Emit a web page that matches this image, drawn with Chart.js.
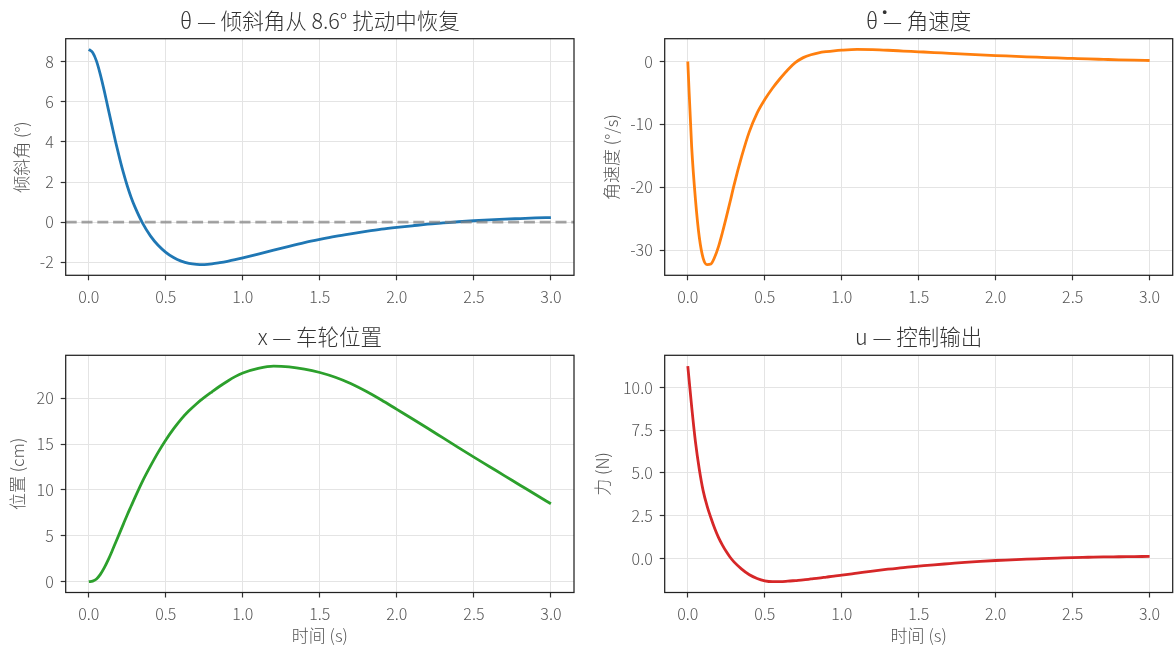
<!DOCTYPE html>
<html>
<head>
<meta charset="utf-8">
<script src="https://cdn.jsdelivr.net/npm/chart.js@4.4.1/dist/chart.umd.min.js"></script>
<style>
  html, body { margin: 0; padding: 0; background: #ffffff; }
  #fig { position: relative; width: 1174px; height: 650px; overflow: hidden; background: #ffffff; }
  #fig canvas { position: absolute; }
</style>
</head>
<body>
<div id="fig">
  <canvas id="pTheta" width="587" height="320" style="left:0px;top:0px"></canvas>
  <canvas id="pRate"  width="587" height="320" style="left:587px;top:0px"></canvas>
  <canvas id="pPos"   width="587" height="330" style="left:0px;top:320px"></canvas>
  <canvas id="pForce" width="587" height="330" style="left:587px;top:320px"></canvas>
</div>
<script>
// Simulation time (s)
const time = [0, 0.025, 0.05, 0.075, 0.1, 0.125, 0.15, 0.175, 0.2, 0.225, 0.25, 0.275, 0.3,
  0.35, 0.4, 0.45, 0.5, 0.55, 0.6, 0.65, 0.7, 0.75, 0.8, 0.85, 0.9, 0.95, 1.0,
  1.1, 1.2, 1.3, 1.4, 1.5, 1.6, 1.7, 1.8, 1.9, 2.0, 2.1, 2.2, 2.3, 2.4, 2.5, 2.6, 2.7, 2.8, 2.9, 3.0];

// Tilt angle (deg)
const tiltAngle = [8.60, 8.45, 8.02, 7.35, 6.55, 5.68, 4.82, 3.97, 3.18, 2.45, 1.80, 1.23, 0.75,
  -0.06, -0.68, -1.15, -1.50, -1.76, -1.94, -2.05, -2.10, -2.11, -2.08, -2.02, -1.95, -1.87, -1.78,
  -1.59, -1.39, -1.20, -1.02, -0.86, -0.71, -0.58, -0.46, -0.35, -0.26, -0.18, -0.10, -0.04, 0.02,
  0.07, 0.11, 0.15, 0.18, 0.21, 0.23];

// Angular velocity (deg/s)
const angularRate = [0, -13.5, -22.0, -28.0, -31.3, -32.3, -32.2, -31.1, -29.4, -27.2, -24.8, -22.3, -19.7,
  -15.1, -11.15, -8.2, -6.05, -4.25, -2.7, -1.3, -0.15, 0.62, 1.08, 1.38, 1.57, 1.71, 1.81,
  1.92, 1.88, 1.79, 1.67, 1.55, 1.43, 1.30, 1.18, 1.06, 0.95, 0.85, 0.75, 0.66, 0.57,
  0.49, 0.41, 0.34, 0.27, 0.21, 0.16];

// Wheel position (cm)
const wheelPos = [0, 0.07, 0.30, 0.80, 1.50, 2.35, 3.30, 4.30, 5.30, 6.30, 7.30, 8.25, 9.20,
  11.0, 12.6, 14.1, 15.45, 16.65, 17.72, 18.62, 19.40, 20.08, 20.70, 21.30, 21.85, 22.35, 22.75,
  23.25, 23.50, 23.42, 23.18, 22.80, 22.28, 21.60, 20.75, 19.80, 18.78, 17.76, 16.72, 15.67, 14.62,
  13.58, 12.56, 11.54, 10.52, 9.50, 8.49];

// Control force (N)
const controlForce = [11.25, 8.9, 6.8, 5.2, 3.95, 3.08, 2.38, 1.75, 1.22, 0.78, 0.40, 0.07, -0.20,
  -0.62, -0.95, -1.17, -1.31, -1.36, -1.36, -1.33, -1.29, -1.25, -1.20, -1.15, -1.09, -1.03, -0.98,
  -0.86, -0.74, -0.63, -0.53, -0.45, -0.37, -0.30, -0.23, -0.17, -0.12, -0.08, -0.04, -0.01, 0.02,
  0.05, 0.07, 0.09, 0.10, 0.11, 0.12];

// Tick positions
const timeTicks  = [0, 0.5, 1.0, 1.5, 2.0, 2.5, 3.0];
const tiltTicks  = [-2, 0, 2, 4, 6, 8];
const rateTicks  = [-30, -20, -10, 0];
const posTicks   = [0, 5, 10, 15, 20];
const forceTicks = [0, 2.5, 5, 7.5, 10];

const FONT = '"Noto Sans CJK SC Light", "Noto Sans CJK SC DemiLight", "Noto Sans CJK SC", "Noto Sans", sans-serif';
const TICK_COLOR = '#555555';
const LABEL_COLOR = '#555555';
const TITLE_COLOR = '#333333';

// axes rectangle around the plotting area
const axesFrame = {
  id: 'axesFrame',
  afterDatasetsDraw(chart) {
    const { ctx, chartArea: a } = chart;
    ctx.save();
    ctx.strokeStyle = '#222222';
    ctx.lineWidth = 1.25;
    ctx.strokeRect(a.left, a.top, a.right - a.left, a.bottom - a.top);
    ctx.restore();
  }
};

// dashed horizontal reference at y = 0
const zeroLine = {
  id: 'zeroLine',
  afterDatasetsDraw(chart, args, opts) {
    if (!opts || !opts.show) return;
    const { ctx, chartArea: a } = chart;
    const y = chart.scales.y.getPixelForValue(0);
    ctx.save();
    ctx.beginPath();
    ctx.rect(a.left, a.top, a.right - a.left, a.bottom - a.top);
    ctx.clip();
    ctx.strokeStyle = 'rgba(128,128,128,0.7)';
    ctx.lineWidth = 2.6;
    ctx.setLineDash([11, 4.8]);
    ctx.beginPath();
    ctx.moveTo(a.left, y);
    ctx.lineTo(a.right, y);
    ctx.stroke();
    ctx.restore();
  }
};

function paddedRange(values) {
  const lo = Math.min(...values), hi = Math.max(...values);
  const m = (hi - lo) * 0.05;
  return [lo - m, hi + m];
}

function makePanel(p) {
  const [yMin, yMax] = paddedRange(p.values);
  const [xMin, xMax] = paddedRange(time);
  const tickFont = { family: FONT, size: 16, weight: 300, lineHeight: 1.2 };
  const labelFont = { family: FONT, size: 17, weight: 300, lineHeight: 1.2 };
  const grid = { color: '#e4e4e4', lineWidth: 1, tickColor: '#333333', tickLength: 5, tickWidth: 1.2 };

  return new Chart(document.getElementById(p.canvas), {
    type: 'line',
    data: {
      datasets: [{
        data: time.map((t, i) => ({ x: t, y: p.values[i] })),
        borderColor: p.color,
        borderWidth: 2.8,
        pointRadius: 0,
        fill: false,
        cubicInterpolationMode: 'monotone'
      }]
    },
    options: {
      responsive: false,
      animation: false,
      devicePixelRatio: 1,
      layout: { padding: { left: 0, right: p.padRight, top: 0, bottom: 0 } },
      plugins: {
        legend: { display: false },
        tooltip: { enabled: false },
        zeroLine: { show: !!p.zeroLine },
        title: {
          display: true,
          text: p.title,
          fullSize: false,
          color: TITLE_COLOR,
          font: { family: FONT, size: 21.5, weight: 300, lineHeight: 1.2 },
          padding: p.titlePad
        }
      },
      scales: {
        x: {
          type: 'linear',
          min: xMin,
          max: xMax,
          afterBuildTicks: s => { s.ticks = timeTicks.map(v => ({ value: v })); },
          afterFit: s => { s.height = p.xAxisHeight; },
          ticks: {
            color: TICK_COLOR, font: tickFont, padding: 6.6,
            maxRotation: 0, autoSkip: false,
            callback: v => v.toFixed(1)
          },
          grid: grid,
          border: { display: false },
          title: {
            display: !!p.xLabel, text: p.xLabel || '', color: LABEL_COLOR, font: labelFont,
            padding: { top: 0, bottom: p.xLabelPad || 0 }
          }
        },
        y: {
          type: 'linear',
          min: yMin,
          max: yMax,
          afterBuildTicks: s => { s.ticks = p.ticks.map(v => ({ value: v })); },
          afterFit: s => { s.width = p.yAxisWidth; },
          ticks: {
            color: TICK_COLOR, font: tickFont, padding: 7, autoSkip: false,
            callback: p.fmt
          },
          grid: grid,
          border: { display: false },
          title: {
            display: true, text: p.yLabel, color: LABEL_COLOR, font: labelFont,
            padding: { top: p.yLabelPad, bottom: 0 }
          }
        }
      }
    },
    plugins: [zeroLine, axesFrame]
  });
}

const intFmt = v => String(Math.round(v));
const oneDec = v => v.toFixed(1);

makePanel({
  canvas: 'pTheta', title: 'θ — 倾斜角从 8.6° 扰动中恢复', yLabel: '倾斜角 (°)',
  values: tiltAngle, color: '#1f77b4', ticks: tiltTicks, fmt: intFmt, zeroLine: true,
  yAxisWidth: 65.7, padRight: 13, xAxisHeight: 44.7,
  titlePad: { top: 7.6, bottom: 5.3 }, yLabelPad: 11.6
});

makePanel({
  canvas: 'pRate', title: 'θ̇ — 角速度', yLabel: '角速度 (°/s)',
  values: angularRate, color: '#ff7f0e', ticks: rateTicks, fmt: intFmt,
  yAxisWidth: 77.7, padRight: 1.3, xAxisHeight: 44.7,
  titlePad: { top: 7.6, bottom: 5.3 }, yLabelPad: 14.3
});

makePanel({
  canvas: 'pPos', title: 'x — 车轮位置', yLabel: '位置 (cm)', xLabel: '时间 (s)',
  values: wheelPos, color: '#2ca02c', ticks: posTicks, fmt: intFmt,
  yAxisWidth: 65.7, padRight: 13, xAxisHeight: 57.5,
  titlePad: { top: 4.1, bottom: 5.4 }, yLabelPad: 7.3, xLabelPad: 3.8
});

makePanel({
  canvas: 'pForce', title: 'u — 控制输出', yLabel: '力 (N)', xLabel: '时间 (s)',
  values: controlForce, color: '#d62728', ticks: forceTicks, fmt: oneDec,
  yAxisWidth: 77.7, padRight: 1.3, xAxisHeight: 57.5,
  titlePad: { top: 4.1, bottom: 5.4 }, yLabelPad: 5.5, xLabelPad: 3.8
});
</script>
</body>
</html>
